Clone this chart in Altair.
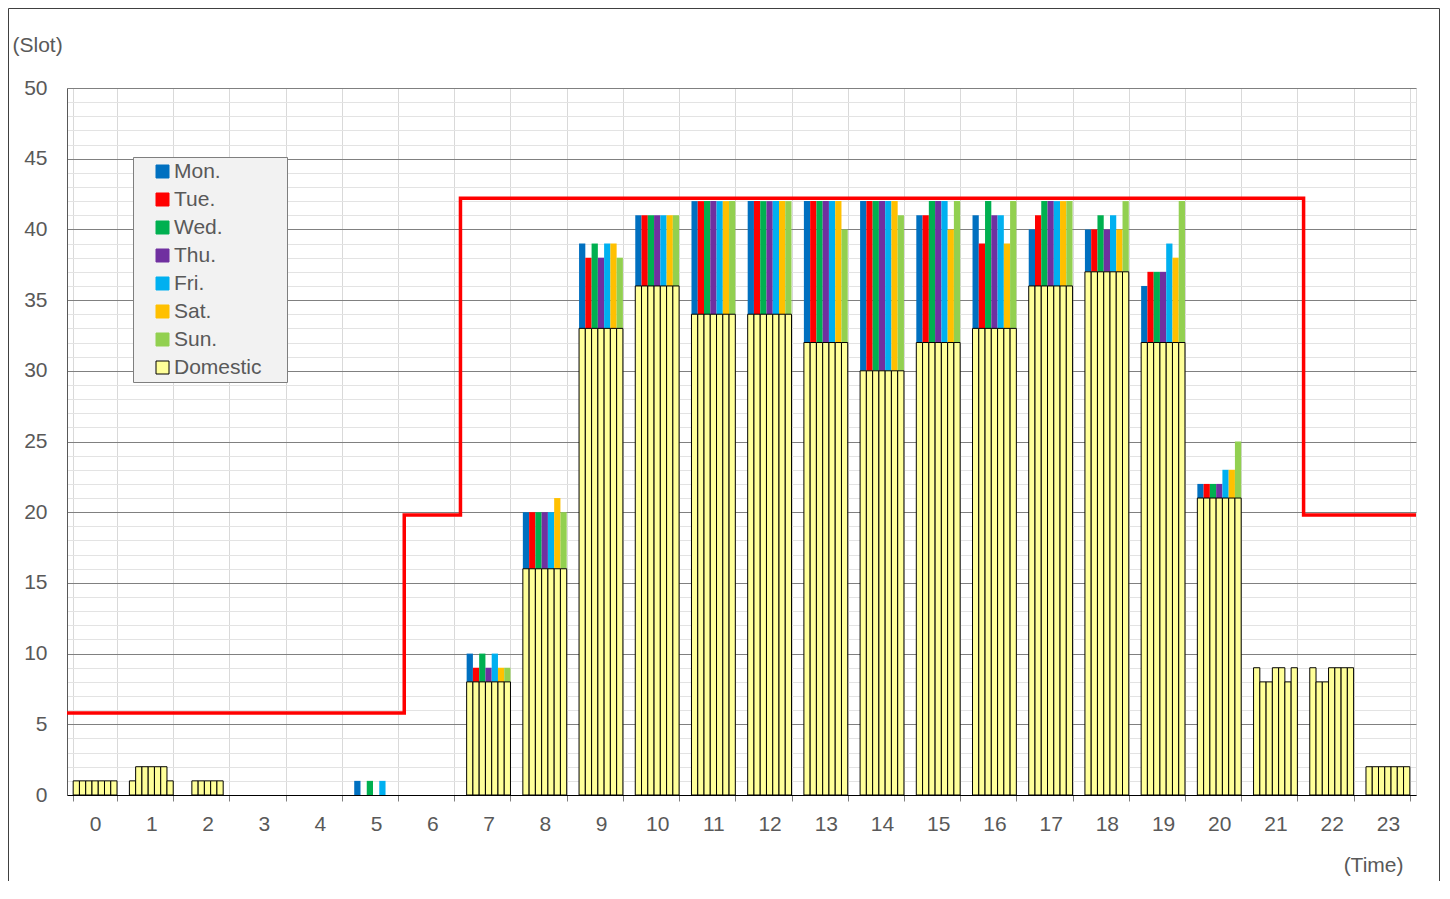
import altair as alt
import pandas as pd

HOURS = list(range(24))
DAYS = ["Mon.", "Tue.", "Wed.", "Thu.", "Fri.", "Sat.", "Sun."]
DAY_COLORS = ["#0070C0", "#FF0000", "#00B050", "#7030A0", "#00B0F0", "#FFC000", "#92D050"]
DOMESTIC = "Domestic"
DOMESTIC_COLOR = "#FFFF99"

# Domestic slots per day (hours 0..23)
MON_DOM = [1, 1, 0, 0, 0, 0, 0, 8, 16, 33, 36, 34, 34, 32, 30, 32, 33, 36, 37, 32, 21, 9, 9, 2]
TUE_DOM = [1, 2, 1, 0, 0, 0, 0, 8, 16, 33, 36, 34, 34, 32, 30, 32, 33, 36, 37, 32, 21, 8, 8, 2]
WED_DOM = [1, 2, 1, 0, 0, 0, 0, 8, 16, 33, 36, 34, 34, 32, 30, 32, 33, 36, 37, 32, 21, 8, 8, 2]
THU_DOM = [1, 2, 1, 0, 0, 0, 0, 8, 16, 33, 36, 34, 34, 32, 30, 32, 33, 36, 37, 32, 21, 9, 9, 2]
FRI_DOM = [1, 2, 1, 0, 0, 0, 0, 8, 16, 33, 36, 34, 34, 32, 30, 32, 33, 36, 37, 32, 21, 9, 9, 2]
SAT_DOM = [1, 2, 1, 0, 0, 0, 0, 8, 16, 33, 36, 34, 34, 32, 30, 32, 33, 36, 37, 32, 21, 8, 9, 2]
SUN_DOM = [1, 1, 0, 0, 0, 0, 0, 8, 16, 33, 36, 34, 34, 32, 30, 32, 33, 36, 37, 32, 21, 9, 9, 2]

# Total slots (domestic + international) per day
MON_TOT = [1, 1, 0, 0, 0, 1, 0, 10, 20, 39, 41, 42, 42, 42, 42, 41, 41, 40, 40, 36, 22, 9, 9, 2]
TUE_TOT = [1, 2, 1, 0, 0, 0, 0, 9, 20, 38, 41, 42, 42, 42, 42, 41, 39, 41, 40, 37, 22, 8, 8, 2]
WED_TOT = [1, 2, 1, 0, 0, 1, 0, 10, 20, 39, 41, 42, 42, 42, 42, 42, 42, 42, 41, 37, 22, 8, 8, 2]
THU_TOT = [1, 2, 1, 0, 0, 0, 0, 9, 20, 38, 41, 42, 42, 42, 42, 42, 41, 42, 40, 37, 22, 9, 9, 2]
FRI_TOT = [1, 2, 1, 0, 0, 1, 0, 10, 20, 39, 41, 42, 42, 42, 42, 42, 41, 42, 41, 39, 23, 9, 9, 2]
SAT_TOT = [1, 2, 1, 0, 0, 0, 0, 9, 21, 39, 41, 42, 42, 42, 42, 40, 39, 42, 40, 38, 23, 8, 9, 2]
SUN_TOT = [1, 1, 0, 0, 0, 0, 0, 9, 20, 38, 41, 42, 42, 40, 41, 42, 42, 42, 42, 42, 25, 9, 9, 2]

# Capacity (red step line)
CAP_HOURS = [0, 6, 7, 22, 24]
CAP_VALUES = [5.8, 19.8, 42.2, 19.8, 19.8]

DOM = [MON_DOM, TUE_DOM, WED_DOM, THU_DOM, FRI_DOM, SAT_DOM, SUN_DOM]
TOT = [MON_TOT, TUE_TOT, WED_TOT, THU_TOT, FRI_TOT, SAT_TOT, SUN_TOT]

intl_rows, dom_rows = [], []
for d, name in enumerate(DAYS):
    for h in HOURS:
        dv, tv = DOM[d][h], TOT[d][h]
        if tv > dv:
            intl_rows.append({"hour": h, "day": name, "series": name, "y0": dv, "y1": tv})
        if dv > 0:
            dom_rows.append({"hour": h, "day": name, "series": DOMESTIC, "y0": 0, "y1": dv})
bars_df = pd.DataFrame(intl_rows + dom_rows)
cap_df = pd.DataFrame({"t": CAP_HOURS, "cap": CAP_VALUES})

SERIES = DAYS + [DOMESTIC]
FILLS = DAY_COLORS + [DOMESTIC_COLOR]
STROKES = DAY_COLORS + ["#000000"]

TXT = "#595959"
FONT = "Liberation Sans"

legend = alt.Legend(
    title="|", titleOpacity=0, titleOrient="right", titlePadding=18, titleFontSize=8,
    orient="none", legendX=66, legendY=69, direction="vertical",
    fillColor="#F2F2F2", strokeColor="#7F7F7F", padding=4, rowPadding=6,
    symbolType="square", symbolSize=169, symbolStrokeWidth=1, symbolOffset=15,
    labelOffset=1, labelFontSize=21, labelColor=TXT, labelFont=FONT,
)

y_axis = alt.Axis(
    values=list(range(0, 51)),
    labelExpr="datum.value % 5 === 0 ? datum.label : ''",
    labelOverlap=False,
    gridColor=alt.condition("datum.value % 5 === 0", alt.value("#808080"), alt.value("#E3E3E3")),
    ticks=False, tickSize=0, labelPadding=20, labelFontSize=21, labelColor=TXT, labelFont=FONT,
    domainColor="#595959", title="(Slot)", titleAngle=0, titleX=-55, titleY=-43,
    titleAlign="left", titleBaseline="middle", titleFontSize=21, titleFontWeight="normal",
    titleColor=TXT, titleFont=FONT,
)

x_axis = alt.Axis(
    tickBand="extent", labelAngle=0, tickSize=6, tickColor="#808080", labelPadding=12,
    labelFontSize=21, labelColor=TXT, labelFont=FONT, domainColor="#000000",
    gridColor="#D9D9D9", grid=True,
    title="(Time)", titleX=1336, titleY=70, titleAlign="right", titleBaseline="middle",
    titleFontSize=21, titleFontWeight="normal", titleColor=TXT, titleFont=FONT,
)

bars = alt.Chart(bars_df).mark_bar().encode(
    x=alt.X("hour:O", sort=HOURS,
            scale=alt.Scale(domain=HOURS, paddingInner=0.22, paddingOuter=0.11), axis=x_axis),
    xOffset=alt.XOffset("day:N", sort=DAYS, scale=alt.Scale(domain=DAYS, paddingInner=0, paddingOuter=0)),
    y=alt.Y("y0:Q", scale=alt.Scale(domain=[0, 50], nice=False), axis=y_axis),
    y2="y1:Q",
    fill=alt.Fill("series:N", scale=alt.Scale(domain=SERIES, range=FILLS), legend=legend),
    stroke=alt.Stroke("series:N", scale=alt.Scale(domain=SERIES, range=STROKES), legend=legend),
    strokeWidth=alt.condition(alt.datum.series == DOMESTIC, alt.value(1), alt.value(0)),
)

line = alt.Chart(cap_df).mark_line(color="#FF0000", strokeWidth=3.5, interpolate="step-after").encode(
    x=alt.X("t:Q", scale=alt.Scale(domain=[0, 24], nice=False, zero=False), axis=None),
    y=alt.Y("cap:Q", scale=alt.Scale(domain=[0, 50], nice=False), axis=y_axis),
)

frame = alt.Chart(pd.DataFrame({"f": [0]})).mark_rect(fillOpacity=0, stroke="#404040", strokeWidth=1).encode(
    x=alt.value(-58.5), x2=alt.value(1372.5), y=alt.value(-79.5), y2=alt.value(830),
)

chart = alt.layer(bars, line, frame).resolve_scale(x="independent").properties(
    width=1349, height=707,
    autosize=alt.AutoSizeParams(type="none"),
    padding={"left": 59, "top": 80, "right": 24, "bottom": 86},
).configure_view(stroke="#BFBFBF").configure(font=FONT)

chart.save("out.html", embed_options={"renderer": "svg", "actions": False})
